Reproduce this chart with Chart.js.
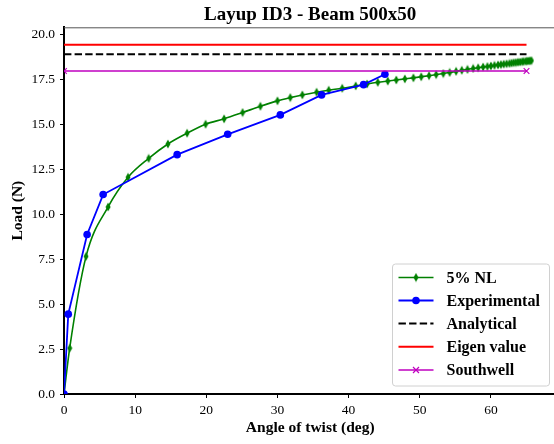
<!DOCTYPE html>
<html>
<head>
<meta charset="utf-8">
<script src="https://cdn.jsdelivr.net/npm/chart.js@4.4.1/dist/chart.umd.min.js"></script>
<style>
  html, body { margin: 0; padding: 0; background: #fff; overflow: hidden; }
  #wrap { position: absolute; left: 0; top: 0; width: 562px; height: 444px; }
</style>
</head>
<body>
<div id="wrap"><canvas id="chart" width="562" height="444"></canvas></div>
<script>
// ---- data ----
var nlAngle = [0, 0.8, 3.1, 6.2, 9.0, 11.9, 14.6, 17.3, 19.9, 22.5, 25.1, 27.6, 30.0, 31.8, 33.5, 35.5,
  37.2, 39.1, 41.0, 42.6, 44.1, 45.5, 46.7, 47.9, 49.1, 50.2, 51.3, 52.3, 53.3, 54.2, 55.1, 55.9,
  56.7, 57.5, 58.2, 58.9, 59.5, 60.0, 60.5, 61.0, 61.4, 61.8, 62.2, 62.6, 62.9, 63.2, 63.5, 63.8,
  64.1, 64.4, 64.6, 64.9, 65.1, 65.3, 65.5, 65.7];
var nlLoad = [0, 2.55, 7.65, 10.4, 12.05, 13.1, 13.9, 14.5, 15.0, 15.3, 15.65, 16.0, 16.3, 16.48, 16.63, 16.78,
  16.89, 17.0, 17.13, 17.24, 17.33, 17.4, 17.46, 17.52, 17.58, 17.64, 17.7, 17.76, 17.82, 17.88, 17.94, 18.0,
  18.05, 18.1, 18.14, 18.18, 18.21, 18.24, 18.27, 18.3, 18.32, 18.34, 18.36, 18.38, 18.4, 18.42, 18.43, 18.45,
  18.46, 18.48, 18.49, 18.5, 18.51, 18.52, 18.53, 18.54];

var expAngle = [0, 0.6, 3.25, 5.5, 15.9, 23.0, 30.4, 36.2, 42.1, 45.1];
var expLoad = [0, 4.44, 8.87, 11.09, 13.31, 14.44, 15.52, 16.63, 17.2, 17.78];

var refAngle = [0, 65.0];
var analyticalLoad = [18.89, 18.89];
var eigenLoad = [19.42, 19.42];
var southwellLoad = [17.96, 17.96];

var chartTitle = "Layup ID3 - Beam 500x50";
var legendLabels = ["5% NL", "Experimental", "Analytical", "Eigen value", "Southwell"];

function pts(xs, ys) {
    return xs.map(function (x, i) { return { x: x, y: ys[i] }; });
}

// thin diamond marker for the NL curve
function thinDiamond(color) {
    var c = document.createElement("canvas");
    c.width = 6; c.height = 10;
    var g = c.getContext("2d");
    g.fillStyle = color;
    g.beginPath();
    g.moveTo(3, 0.5); g.lineTo(5.5, 5); g.lineTo(3, 9.5); g.lineTo(0.5, 5);
    g.closePath();
    g.fill();
    return c;
}
var diamond = thinDiamond("#008000");

var serif = "'Liberation Serif', 'Times New Roman', serif";

// title centred over the axes (like matplotlib), plus top spine
var axesTitle = {
    id: "axesTitle",
    afterDraw: function (chart) {
        var a = chart.chartArea, ctx = chart.ctx;
        ctx.save();
        ctx.strokeStyle = "#555";
        ctx.lineWidth = 1;
        ctx.beginPath();
        ctx.moveTo(a.left, a.top + 0.5);
        ctx.lineTo(a.right + 2, a.top + 0.5);
        ctx.stroke();

        ctx.fillStyle = "#000";
        ctx.font = "bold 19px " + serif;
        ctx.textAlign = "center";
        ctx.textBaseline = "alphabetic";
        ctx.fillText(chartTitle, (a.left + a.right) / 2, 20);
        ctx.restore();
    }
};

// legend drawn inside the axes, bottom right
var boxLegend = {
    id: "boxLegend",
    afterDraw: function (chart) {
        var ctx = chart.ctx;
        ctx.save();
        var x0 = 392.5, y0 = 264, w = 157, h = 122;
        ctx.beginPath();
        ctx.roundRect(x0, y0, w, h, 3);
        ctx.fillStyle = "rgba(255,255,255,0.85)";
        ctx.fill();
        ctx.strokeStyle = "#d0d0d0";
        ctx.lineWidth = 1;
        ctx.stroke();

        var rows = [277.5, 300.5, 323.5, 346.7, 370];
        var ds = chart.data.datasets;
        for (var i = 0; i < legendLabels.length; i++) {
            var d = ds[i], y = rows[i];
            ctx.beginPath();
            ctx.setLineDash(d.borderDash || []);
            ctx.strokeStyle = d.borderColor;
            ctx.lineWidth = d.borderWidth;
            ctx.moveTo(398.5, y); ctx.lineTo(433.5, y);
            ctx.stroke();
            ctx.setLineDash([]);
            if (i === 0) {
                ctx.drawImage(diamond, 416 - 3, y - 5);
            } else if (i === 1) {
                ctx.beginPath();
                ctx.arc(416, y, 3.8, 0, Math.PI * 2);
                ctx.fillStyle = "#0000ff";
                ctx.fill();
            } else if (i === 4) {
                ctx.beginPath();
                ctx.strokeStyle = "#bf00bf";
                ctx.lineWidth = 1.2;
                ctx.moveTo(413, y - 3); ctx.lineTo(419, y + 3);
                ctx.moveTo(413, y + 3); ctx.lineTo(419, y - 3);
                ctx.stroke();
            }
            ctx.fillStyle = "#000";
            ctx.font = "bold 16px " + serif;
            ctx.textBaseline = "middle";
            ctx.textAlign = "left";
            ctx.fillText(legendLabels[i], 446.5, y + 1);
        }
        ctx.restore();
    }
};

try {
    var ctx = document.getElementById("chart").getContext("2d");
    new Chart(ctx, {
        type: "line",
        data: {
            datasets: [{
                label: legendLabels[0],
                data: pts(nlAngle, nlLoad),
                borderColor: "#008000",
                backgroundColor: "#008000",
                borderWidth: 1.6,
                cubicInterpolationMode: "monotone",
                pointStyle: diamond,
                pointRadius: 4,
                order: 5,
                clip: 0
            }, {
                label: legendLabels[1],
                data: pts(expAngle, expLoad),
                borderColor: "#0000ff",
                backgroundColor: "#0000ff",
                borderWidth: 1.8,
                pointStyle: "circle",
                pointRadius: 3.8,
                pointBorderWidth: 0,
                order: 4,
                clip: 0
            }, {
                label: legendLabels[2],
                data: pts(refAngle, analyticalLoad),
                borderColor: "#000000",
                borderWidth: 2,
                borderDash: [7.4, 3.2],
                pointRadius: 0,
                order: 3,
                clip: 0
            }, {
                label: legendLabels[3],
                data: pts(refAngle, eigenLoad),
                borderColor: "#ff0000",
                borderWidth: 2,
                pointRadius: 0,
                order: 2,
                clip: 0
            }, {
                label: legendLabels[4],
                data: pts(refAngle, southwellLoad),
                borderColor: "#bf00bf",
                backgroundColor: "#bf00bf",
                borderWidth: 1.5,
                pointStyle: "crossRot",
                pointRadius: 4,
                pointBorderWidth: 1.2,
                order: 1,
                clip: 0
            }]
        },
        options: {
            responsive: false,
            devicePixelRatio: 1,
            animation: false,
            layout: { padding: { left: 0, right: 2, top: 27.3, bottom: 0 } },
            elements: { line: { tension: 0 } },
            plugins: {
                legend: { display: false },
                tooltip: { enabled: false },
                title: { display: false }
            },
            scales: {
                x: {
                    type: "linear",
                    min: 0,
                    max: 69.2,
                    afterFit: function (s) { s.height = 50; },
                    border: { display: true, color: "#000", width: 2 },
                    grid: { display: true, drawOnChartArea: false, drawTicks: true, tickLength: 4, color: "#000" },
                    ticks: {
                        stepSize: 10,
                        includeBounds: false,
                        color: "#000",
                        padding: 4,
                        maxRotation: 0,
                        font: { family: serif, size: 13.5 }
                    },
                    title: {
                        display: true,
                        text: "Angle of twist (deg)",
                        color: "#000",
                        font: { family: serif, size: 15.5, weight: "bold" },
                        padding: { top: 0, bottom: 7 }
                    }
                },
                y: {
                    type: "linear",
                    min: 0,
                    max: 20.39,
                    afterFit: function (s) { s.width = 64; },
                    border: { display: true, color: "#000", width: 2 },
                    grid: { display: true, drawOnChartArea: false, drawTicks: true, tickLength: 4, color: "#000" },
                    ticks: {
                        stepSize: 2.5,
                        includeBounds: false,
                        color: "#000",
                        padding: 5,
                        font: { family: serif, size: 13.5 },
                        callback: function (v) { return v.toFixed(1); }
                    },
                    title: {
                        display: true,
                        text: "Load (N)",
                        color: "#000",
                        font: { family: serif, size: 15.5, weight: "bold" },
                        padding: { top: 9, bottom: 0 }
                    }
                }
            }
        },
        plugins: [axesTitle, boxLegend]
    });
} catch (e) {
    console.log("Error in chart: " + e);
}
</script>
</body>
</html>
